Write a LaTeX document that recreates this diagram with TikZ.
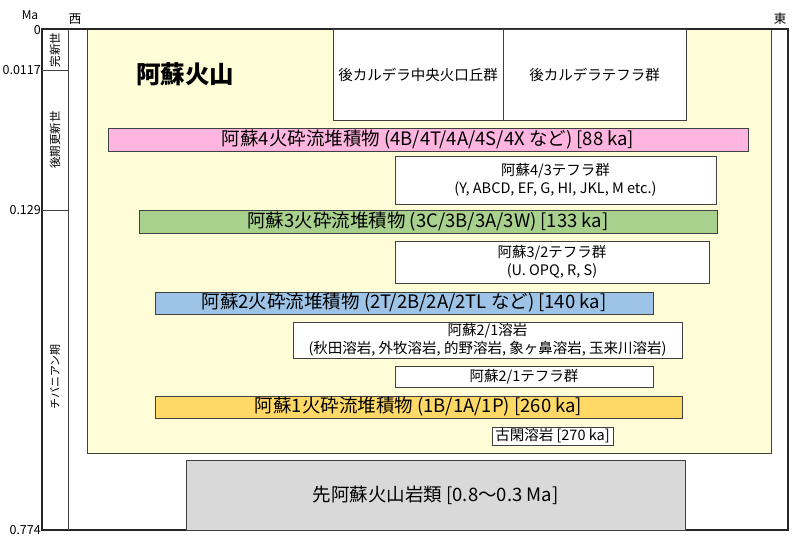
\documentclass[tikz,border=0pt]{standalone}
\usepackage{fontspec}
\setmainfont{Noto Sans CJK JP}
\usepackage{xcolor}
\usetikzlibrary{positioning}
\definecolor{cream}{HTML}{FFFDD8}
\definecolor{pinkbar}{HTML}{FFB5DF}
\definecolor{greenbar}{HTML}{A9D18E}
\definecolor{bluebar}{HTML}{9DC3E6}
\definecolor{orangebar}{HTML}{FFD966}
\definecolor{greybox}{HTML}{D9D9D9}
\tikzstyle{layer}=[draw=black!75, line width=0.8pt, inner sep=0pt, outer sep=0pt, align=center]
\tikzstyle{bar}=[layer, font=\fontsize{18.5}{20}\selectfont]
\tikzstyle{unit}=[layer, fill=white, font=\fontsize{14.5}{18.5}\selectfont]
\tikzstyle{agelabel}=[left, inner sep=1pt, font=\fontsize{12.5}{13}\selectfont]
\tikzstyle{epoch}=[rotate=90, font=\fontsize{11.5}{12}\selectfont]
\begin{document}
\begin{tikzpicture}[x=1pt,y=-1pt]
\useasboundingbox[fill=white] (0,0) rectangle (800,545);
\coordinate (a0) at (42,30);
\coordinate (a1) at (42,70);
\coordinate (a2) at (42,210);
\coordinate (a3) at (42,530);
\node[layer, fill=cream, minimum width=684pt, minimum height=424pt] (aso) at (429,241) {};
\draw[line width=1.3pt, black!85] (42,29) rectangle (788,530);
\draw[line width=0.8pt, black!75] (68,29) -- (68,530);
\draw[line width=0.8pt, black!75] (a1) -- +(26,0);
\draw[line width=0.8pt, black!75] (a2) -- +(26,0);
\node[agelabel, inner ysep=0pt] at (a0) {0};
\node[agelabel] at (a1) {0.0117};
\node[agelabel] at (a2) {0.129};
\node[agelabel] at (a3) {0.774};
\node[inner sep=0pt, font=\fontsize{12}{13}\selectfont] (ma) at (30,15) {Ma};
\node[font=\fontsize{12.5}{13}\selectfont] (west) at (75,19) {西};
\node[font=\fontsize{12.5}{13}\selectfont] (east) at (780,19) {東};
\node[epoch] (holo) at (55,50) {完新世};
\node[epoch] (late) at (55,140) {後期更新世};
\node[epoch, font=\fontsize{11}{12}\selectfont] (chiba) at (55,377) {チバニアン期};
\node[font=\bfseries\fontsize{24.5}{26}\selectfont] (title) at (185,74) {阿蘇火山};
\node[unit, minimum width=170pt, minimum height=91pt] (cone) at (418,74.5) {後カルデラ中央火口丘群};
\node[unit, minimum width=183pt, minimum height=91pt, right=0pt of cone] (pctephra) {後カルデラテフラ群};
\node[bar, fill=pinkbar, minimum width=640pt, minimum height=23pt] (aso4) at (428,139.5) {阿蘇4火砕流堆積物 (4B/4T/4A/4S/4X など) [88 ka]};
\node[unit, minimum width=321pt, minimum height=48pt] (t43) at (555.5,180) {阿蘇4/3テフラ群\\(Y, ABCD, EF, G, HI, JKL, M etc.)};
\node[bar, fill=greenbar, minimum width=578pt, minimum height=23pt] (aso3) at (428,221.5) {阿蘇3火砕流堆積物 (3C/3B/3A/3W) [133 ka]};
\node[unit, minimum width=314pt, minimum height=42pt] (t32) at (552,262) {阿蘇3/2テフラ群\\(U. OPQ, R, S)};
\node[bar, fill=bluebar, minimum width=498pt, minimum height=22pt] (aso2) at (404,303) {阿蘇2火砕流堆積物 (2T/2B/2A/2TL など) [140 ka]};
\node[unit, minimum width=389pt, minimum height=36pt] (lava21) at (487.5,340) {阿蘇2/1溶岩\\(秋田溶岩, 外牧溶岩, 的野溶岩, 象ヶ鼻溶岩, 玉来川溶岩)};
\node[unit, minimum width=258pt, minimum height=21pt] (t21) at (524,376.5) {阿蘇2/1テフラ群};
\node[bar, fill=orangebar, minimum width=527pt, minimum height=22pt] (aso1) at (418.5,407) {阿蘇1火砕流堆積物 (1B/1A/1P) [260 ka]};
\node[unit, minimum width=121pt, minimum height=18pt] (koga) at (552.5,436) {古閑溶岩 [270 ka]};
\node[layer, fill=greybox, minimum width=499pt, minimum height=70pt, font=\fontsize{18.5}{20}\selectfont] (preaso) at (435.5,495) {先阿蘇火山岩類 [0.8〜0.3 Ma]};
\end{tikzpicture}
\end{document}
